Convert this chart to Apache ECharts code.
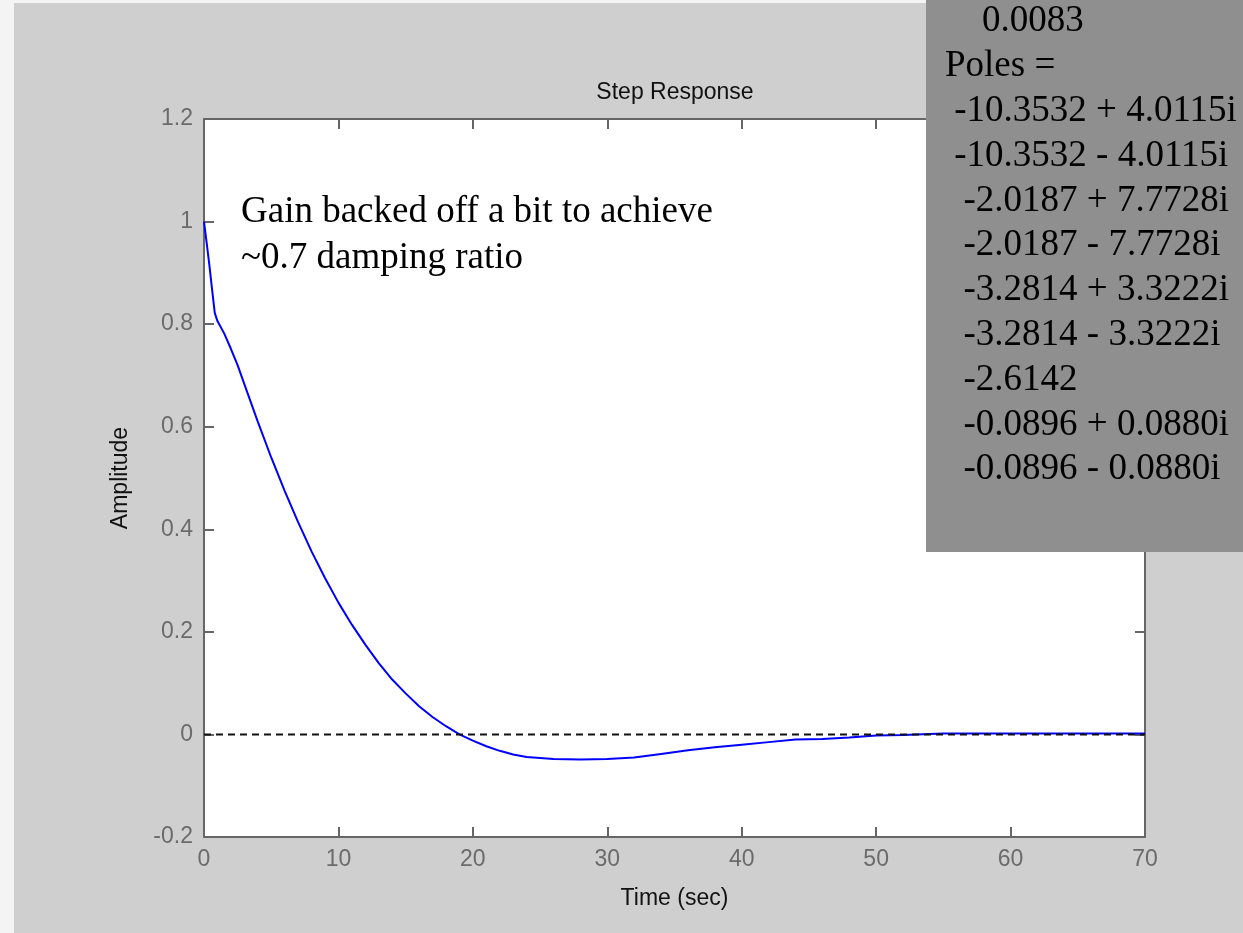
<!DOCTYPE html>
<html>
<head>
<meta charset="utf-8">
<title>Step Response</title>
<script src="https://cdn.jsdelivr.net/npm/echarts@6/dist/echarts.min.js"></script>
<style>
  html, body { margin: 0; padding: 0; background: #f4f4f4; }
  #chart { width: 1243px; height: 933px; }
</style>
</head>
<body>
<div id="chart"></div>
<script>
// Step response samples (time in seconds, amplitude)
const timeSec = [0, 0.2, 0.4, 0.6, 0.8, 1, 1.5, 2, 2.5, 3,
  4, 5, 6, 7, 8, 9, 10, 11, 12, 13, 14, 15, 16, 17, 18, 19,
  20, 21, 22, 23, 24, 26, 28, 30, 32, 34,
  36, 38, 40, 42, 44, 46, 48, 50, 52, 55, 60, 65, 70];
const amplitude = [1.000, 0.958, 0.915, 0.868, 0.822, 0.806, 0.782, 0.752, 0.720, 0.683,
  0.610, 0.540, 0.475, 0.414, 0.357, 0.305, 0.257, 0.214, 0.175, 0.139, 0.107, 0.080, 0.055, 0.034, 0.016, 0.000,
  -0.012, -0.023, -0.032, -0.039, -0.044, -0.048, -0.049, -0.048, -0.045, -0.038,
  -0.031, -0.025, -0.020, -0.015, -0.010, -0.009, -0.006, -0.002, -0.001, 0.002, 0.002, 0.002, 0.002];

// Reference level (steady-state zero line)
const referenceTime = [0, 70];
const referenceLevel = [0, 0];

// Axis ticks
const xTicks = [0, 10, 20, 30, 40, 50, 60, 70];
const yTicks = [-0.2, 0, 0.2, 0.4, 0.6, 0.8, 1, 1.2];

// Text blocks
const titleText = 'Step Response';
const xAxisTitle = 'Time (sec)';
const yAxisTitle = 'Amplitude';
const noteLines = ['Gain backed off a bit to achieve', '~0.7 damping ratio'];
const consoleLines = [
  '    0.0083',
  'Poles =',
  ' -10.3532 + 4.0115i',
  ' -10.3532 - 4.0115i',
  '  -2.0187 + 7.7728i',
  '  -2.0187 - 7.7728i',
  '  -3.2814 + 3.3222i',
  '  -3.2814 - 3.3222i',
  '  -2.6142',
  '  -0.0896 + 0.0880i',
  '  -0.0896 - 0.0880i'
];

const responseData = timeSec.map((t, i) => [t, amplitude[i]]);
const referenceData = referenceTime.map((t, i) => [t, referenceLevel[i]]);

const axisColor = '#666666';
const labelColor = '#6b6b6b';
const sansFont = '"Liberation Sans", Arial, sans-serif';
const serifFont = '"Liberation Serif", "Times New Roman", serif';

const xMin = xTicks[0], xMax = xTicks[xTicks.length - 1], xStep = xTicks[1] - xTicks[0];
const yMin = yTicks[0], yMax = yTicks[yTicks.length - 1];
const yStep = Math.round((yTicks[1] - yTicks[0]) * 10) / 10;

function frameAxis(position, showLabels) {
  return {
    type: 'value',
    position: position,
    axisLine: { show: true, onZero: false, lineStyle: { color: axisColor, width: 2 } },
    axisTick: { show: true, inside: true, length: 10, lineStyle: { color: axisColor, width: 2 } },
    axisLabel: {
      show: showLabels, color: labelColor, fontSize: 23, fontFamily: sansFont
    },
    splitLine: { show: false }
  };
}

const xBottom = Object.assign(frameAxis('bottom', true), {
  min: xMin, max: xMax, interval: xStep,
  name: xAxisTitle, nameLocation: 'middle', nameGap: 50,
  nameTextStyle: { color: '#111', fontSize: 23, fontFamily: sansFont }
});
xBottom.axisLabel.margin = 11;
const xTop = Object.assign(frameAxis('top', false), { min: xMin, max: xMax, interval: xStep });

const yLeft = Object.assign(frameAxis('left', true), {
  min: yMin, max: yMax, interval: yStep,
  name: yAxisTitle, nameLocation: 'middle', nameGap: 72,
  nameTextStyle: { color: '#111', fontSize: 23, fontFamily: sansFont }
});
yLeft.axisLabel.margin = 11;
yLeft.axisLabel.formatter = v => String(Math.round(v * 10) / 10);
const yRight = Object.assign(frameAxis('right', false), { min: yMin, max: yMax, interval: yStep });

const graphics = [
  // light page margins
  { type: 'rect', shape: { x: 0, y: 0, width: 14, height: 933 }, style: { fill: '#f4f4f4' }, silent: true },
  { type: 'rect', shape: { x: 0, y: 0, width: 1243, height: 3 }, style: { fill: '#f4f4f4' }, silent: true },
  // console output panel
  { type: 'rect', shape: { x: 926, y: 0, width: 317, height: 552 }, style: { fill: '#8f8f8f' }, z: 100, silent: true }
];
consoleLines.forEach((line, i) => {
  graphics.push({
    type: 'text', z: 101, silent: true,
    style: {
      text: line, x: 945, y: 21.7 + i * 44.8,
      font: '37px ' + serifFont, fill: '#000',
      textAlign: 'left', textVerticalAlign: 'middle', align: 'left', verticalAlign: 'middle'
    }
  });
});
noteLines.forEach((line, i) => {
  graphics.push({
    type: 'text', z: 50, silent: true,
    style: {
      text: line, x: 241, y: 212.7 + i * 46,
      font: '37px ' + serifFont, fill: '#000',
      textAlign: 'left', textVerticalAlign: 'middle', align: 'left', verticalAlign: 'middle'
    }
  });
});

const chart = echarts.init(document.getElementById('chart'), null, { renderer: 'canvas' });
chart.setOption({
  animation: false,
  backgroundColor: '#cfcfcf',
  title: {
    text: titleText, left: 670, top: 76.5, textAlign: 'center',
    textStyle: { color: '#111', fontSize: 23, fontWeight: 'normal', fontFamily: sansFont }
  },
  grid: {
    left: 204, top: 119, right: 98, bottom: 96,
    show: true, backgroundColor: '#ffffff', borderWidth: 0, containLabel: false
  },
  xAxis: [xBottom, xTop],
  yAxis: [yLeft, yRight],
  series: [
    {
      type: 'line', xAxisIndex: 0, yAxisIndex: 0,
      data: responseData, showSymbol: false, symbol: 'none',
      lineStyle: { color: '#0000ff', width: 2 }, z: 2
    },
    {
      type: 'line', xAxisIndex: 0, yAxisIndex: 0,
      data: referenceData, showSymbol: false, symbol: 'none',
      lineStyle: { color: '#111', width: 2, type: [7, 5] }, z: 3
    }
  ],
  graphic: graphics
});
</script>
</body>
</html>
